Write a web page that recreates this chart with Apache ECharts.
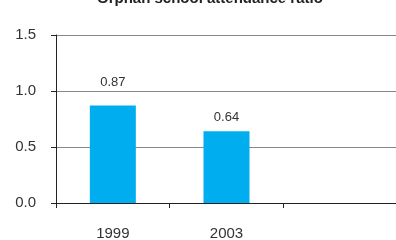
<!DOCTYPE html>
<html>
<head>
<meta charset="utf-8">
<script src="https://cdn.jsdelivr.net/npm/echarts@6/dist/echarts.min.js"></script>
<style>html,body{margin:0;padding:0;background:#fff}#c{width:396px;height:240px}</style>
</head>
<body>
<div id="c"></div>
<script>
var titleText = 'Orphan school attendance ratio';
var categories = ['1999', '2003', ''];
var values = [0.87, 0.64, null];
var yTicks = [0, 0.5, 1.0, 1.5];
var labelGaps = [17, 7, 7];

var chart = echarts.init(document.getElementById('c'), null, {renderer: 'canvas'});
chart.setOption({
  animation: false,
  title: {
    text: titleText,
    left: 92,
    top: -14,
    textStyle: {fontFamily: 'Liberation Sans', fontSize: 15, fontWeight: 'bold', color: '#222'}
  },
  grid: {left: 56, right: -1, top: 35, bottom: 37, containLabel: false, outerBoundsMode: 'none'},
  xAxis: {
    type: 'category',
    data: categories,
    axisLine: {show: true, lineStyle: {color: '#222', width: 1}},
    axisTick: {show: true, length: 5, lineStyle: {color: '#222'}},
    axisLabel: {margin: 23, fontFamily: 'Liberation Sans', fontSize: 15, color: '#333'},
    splitLine: {show: false}
  },
  yAxis: {
    type: 'value',
    min: yTicks[0],
    max: yTicks[yTicks.length - 1],
    interval: 0.5,
    axisLine: {show: true, lineStyle: {color: '#222', width: 1}},
    axisTick: {show: true, length: 5, lineStyle: {color: '#222'}},
    axisLabel: {margin: 20, fontFamily: 'Liberation Sans', fontSize: 15, color: '#333',
      formatter: function (v) { return v.toFixed(1); }},
    splitLine: {show: true, lineStyle: {color: '#888', width: 1}}
  },
  series: [{
    type: 'bar',
    barWidth: 46,
    itemStyle: {color: '#00AEEF'},
    data: values.map(function (v, i) {
      return {value: v, label: {distance: labelGaps[i]}};
    }),
    label: {
      show: true,
      position: 'top',
      fontFamily: 'Liberation Sans',
      fontSize: 13,
      color: '#333',
      formatter: function (p) { return p.value == null ? '' : p.value.toFixed(2); }
    }
  }]
});
</script>
</body>
</html>
